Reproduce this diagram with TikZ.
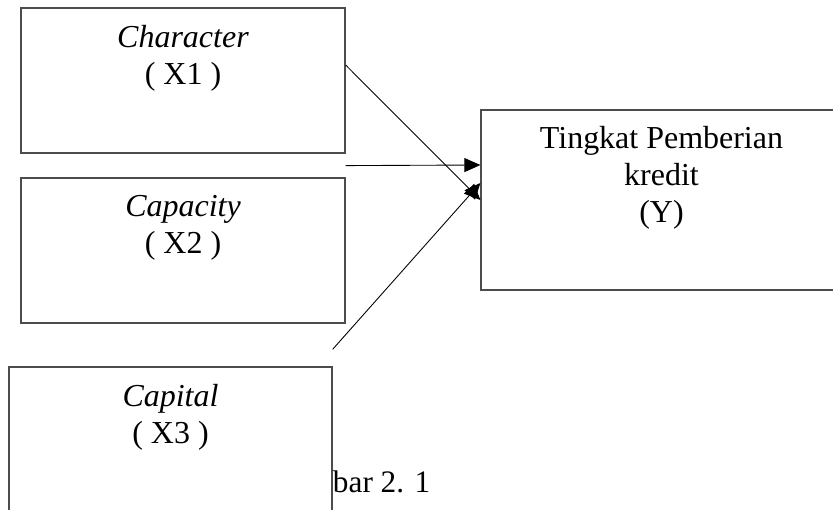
\documentclass[tikz,border=0pt]{standalone}
\usepackage{fontspec}
\setmainfont{Liberation Serif}
\usepackage{xcolor}
\usetikzlibrary{arrows.meta,positioning}

\begin{document}
\begin{tikzpicture}[
    varbox/.style={draw=black!70, line width=0.7pt, fill=white, minimum width=6.48cm, minimum height=2.9cm, inner sep=0pt},
    boxtext/.style={align=center, inner sep=0pt, font=\fontsize{18.2}{21}\selectfont},
    arrowstyle/.style={-{Triangle[length=0.32cm, width=0.28cm]}, line width=0.5pt}
  ]
  \useasboundingbox (0,0) rectangle (16.66,10.2);

  \node[varbox] (x1) at (3.66,8.59) {};
  \node[varbox] (x2) at (3.66,5.19) {};
  \node[varbox, minimum width=6.46cm, minimum height=3.3cm] (x3) at (3.41,1.21) {};
  \node[varbox, minimum width=7.22cm, minimum height=3.6cm] (y) at (13.23,6.2) {};

  \node[boxtext, below=0.36cm of x1.north] (x1txt) {\textit{Character}\\( X1 )};
  \node[boxtext, below=0.35cm of x2.north] (x2txt) {\textit{Capacity}\\( X2 )};
  \node[boxtext, below=0.36cm of x3.north] (x3txt) {\textit{Capital}\\( X3 )};
  \node[boxtext, below=0.33cm of y.north] (ytxt) {Tingkat Pemberian\\kredit\\(Y)};
  \node[boxtext, font=\fontsize{17.8}{20}\selectfont, anchor=base west] (cap) at ([yshift=-2.52cm]x3.north east) {bar 2. 1};

  \draw[arrowstyle] ([yshift=0.31cm]x1.east) -- (y.west);
  \draw[arrowstyle] ([yshift=-0.24cm]x1.south east) -- ([yshift=0.7cm]y.west);
  \draw[arrowstyle] ([yshift=0.34cm]x3.north east) -- ([yshift=0.34cm]y.west);
\end{tikzpicture}
\end{document}
